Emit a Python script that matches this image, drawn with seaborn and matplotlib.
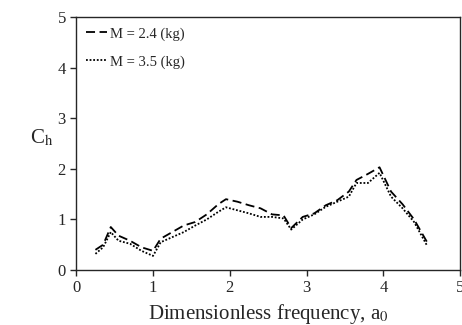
import matplotlib
matplotlib.use("Agg")
import matplotlib.pyplot as plt
import seaborn as sns
import pandas as pd

# данные
freq = [0.25, 0.35, 0.45, 0.55, 0.7, 0.85, 1.0, 1.1, 1.25, 1.4, 1.55, 1.7, 1.85, 1.95,
        2.1, 2.25, 2.4, 2.55, 2.7, 2.8, 2.95, 3.1, 3.25, 3.4, 3.55, 3.65, 3.8, 3.95,
        4.1, 4.25, 4.4, 4.57]
ch_24 = [0.40, 0.50, 0.85, 0.68, 0.58, 0.45, 0.38, 0.62, 0.75, 0.88, 0.95, 1.10, 1.30, 1.40,
         1.35, 1.28, 1.22, 1.10, 1.08, 0.83, 1.05, 1.12, 1.28, 1.38, 1.55, 1.78, 1.90, 2.03,
         1.55, 1.30, 1.00, 0.55]
ch_35 = [0.32, 0.45, 0.75, 0.58, 0.52, 0.38, 0.28, 0.55, 0.65, 0.75, 0.88, 1.00, 1.15, 1.24,
         1.18, 1.12, 1.05, 1.05, 1.02, 0.80, 1.00, 1.10, 1.25, 1.35, 1.45, 1.72, 1.72, 1.92,
         1.45, 1.22, 0.95, 0.48]
labels = ["M = 2.4 (kg)", "M = 3.5 (kg)"]

df = pd.DataFrame({"a0": freq * 2, "Ch": ch_24 + ch_35,
                   "M": [labels[0]] * len(freq) + [labels[1]] * len(freq)})

sns.set_style("ticks")
plt.rcParams["font.family"] = ["Liberation Serif", "DejaVu Serif"]
plt.rcParams["mathtext.fontset"] = "stix"

fig = plt.figure(figsize=(4.62, 3.25), dpi=100)
ax = fig.add_axes([0.165, 0.169, 0.831, 0.779])

sns.lineplot(data=df, x="a0", y="Ch", hue="M", style="M",
             palette=["black", "black"], dashes=[(5, 2.5), (1, 1)],
             linewidth=1.3, ax=ax)

ax.set_xlim(0, 5)
ax.set_ylim(0, 5)
ax.set_xticks(range(6))
ax.set_yticks(range(6))
ax.tick_params(direction="out", length=4, labelsize=12, width=1)
ax.set_xlabel("Dimensionless frequency, a$_{\\mathrm{0}}$", fontsize=15)
ax.set_ylabel("C$_{\\mathrm{h}}$", fontsize=15, rotation=0)
ax.yaxis.set_label_coords(-0.09, 0.48)
for s in ax.spines.values():
    s.set_linewidth(1)

ax.legend(title=None, frameon=False, loc="upper left", fontsize=10.5,
          handlelength=1.4, handletextpad=0.2, labelspacing=1.0,
          borderaxespad=0.3)

fig.savefig("out.png", dpi=100)
